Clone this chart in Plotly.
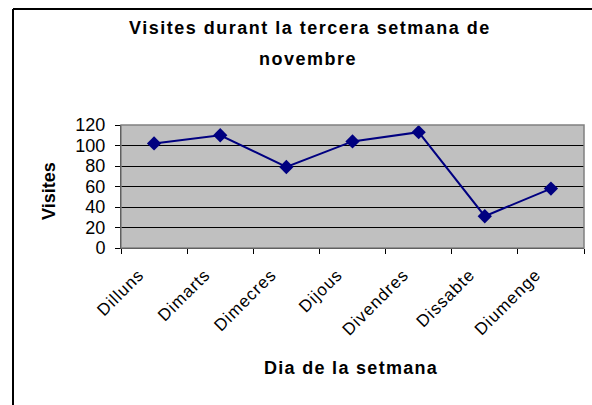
import plotly.graph_objects as go

days = ["Dilluns", "Dimarts", "Dimecres", "Dijous", "Divendres", "Dissabte", "Diumenge"]
visits = [102, 110, 79, 104, 113, 31, 58]
y_ticks = [0, 20, 40, 60, 80, 100, 120]

title_line1 = "Visites durant la tercera setmana de"
title_line2 = "novembre"
x_title = "Dia de la setmana"
y_title = "Visites"

FONT = "Liberation Sans, Arial, sans-serif"

# plot area in pixels
L, R, T, B = 121, 584, 125, 248
W, H = R - L, B - T

def px(x):
    return (x - L) / W

def py(y):
    return (B - y) / H

def spaced(s, ls):
    return '<span style="letter-spacing:%spx">%s</span>' % (ls, s)

fig = go.Figure()
fig.add_trace(go.Scatter(
    x=days, y=visits, mode="lines+markers",
    line=dict(color="#000080", width=2),
    marker=dict(symbol="diamond", size=11, color="#000080"),
    showlegend=False, cliponaxis=False,
))

fig.update_layout(
    width=592, height=405,
    margin=dict(l=L, r=592 - R, t=T, b=405 - B),
    paper_bgcolor="white", plot_bgcolor="#C0C0C0",
    font=dict(family=FONT, color="black"),
    xaxis=dict(
        type="category", tickson="boundaries", ticks="outside", ticklen=5,
        tickcolor="black", tickwidth=1, tickangle=-45,
        tickvals=days, ticktext=[spaced(d, 1) for d in days],
        tickfont=dict(size=17, family=FONT), ticklabelstandoff=9,
        ticklabelshift=-15,
        showline=True, linecolor="black", linewidth=1,
        showgrid=False, zeroline=False,
        range=[-0.5, 6.5],
    ),
    yaxis=dict(
        range=[0, 120], tickvals=y_ticks, ticks="outside", ticklen=5,
        tickcolor="black", tickwidth=1, tickfont=dict(size=18, family=FONT),
        ticklabelstandoff=6,
        showline=True, linecolor="black", linewidth=1,
        showgrid=True, gridcolor="black", gridwidth=1, zeroline=False,
    ),
    shapes=[
        dict(type="rect", xref="paper", yref="paper", x0=0, x1=1, y0=0, y1=1,
             line=dict(color="#808080", width=1.5), layer="above"),
        dict(type="line", xref="paper", yref="paper", x0=px(13), x1=px(700),
             y0=py(9), y1=py(9), line=dict(color="black", width=2)),
        dict(type="line", xref="paper", yref="paper", x0=px(13), x1=px(13),
             y0=py(9), y1=py(600), line=dict(color="black", width=2)),
    ],
    annotations=[
        dict(text="<b>" + spaced(title_line1, 1.5) + "</b>",
             xref="paper", yref="paper", x=px(310), y=py(28),
             xanchor="center", yanchor="middle", showarrow=False,
             font=dict(size=18, family=FONT, color="black")),
        dict(text="<b>" + spaced(title_line2, 1.5) + "</b>",
             xref="paper", yref="paper", x=px(308), y=py(59),
             xanchor="center", yanchor="middle", showarrow=False,
             font=dict(size=18, family=FONT, color="black")),
        dict(text="<b>" + spaced(x_title, 1.3) + "</b>",
             xref="paper", yref="paper", x=px(351), y=py(368),
             xanchor="center", yanchor="middle", showarrow=False,
             font=dict(size=18, family=FONT, color="black")),
        dict(text="<b>" + y_title + "</b>",
             xref="paper", yref="paper", x=px(49), y=py(191),
             xanchor="center", yanchor="middle", showarrow=False, textangle=-90,
             font=dict(size=18, family=FONT, color="black")),
    ],
)

fig.write_html("out.html", config={"displayModeBar": False},
               post_script="document.body.style.margin='0';")
